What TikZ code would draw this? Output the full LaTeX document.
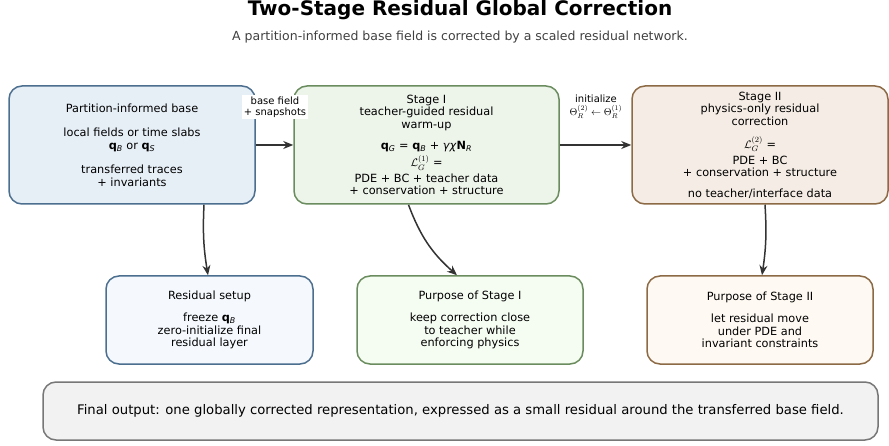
\documentclass[tikz,border=0pt]{standalone}
\usepackage{fontspec}
\setmainfont{DejaVu Sans}
\usetikzlibrary{arrows.meta}
\definecolor{aFill}{HTML}{E6EEF6}
\definecolor{aLine}{HTML}{4C6E8F}
\definecolor{dFill}{HTML}{F5F9FE}
\definecolor{bFill}{HTML}{EDF4EA}
\definecolor{bLine}{HTML}{6A8C5E}
\definecolor{eFill}{HTML}{F5FCF2}
\definecolor{cFill}{HTML}{F5EDE5}
\definecolor{cLine}{HTML}{8C6A45}
\definecolor{fFill}{HTML}{FEF9F2}
\definecolor{gFill}{HTML}{F2F2F2}
\definecolor{gLine}{HTML}{777777}
\definecolor{arr}{HTML}{333333}
\newcommand\qb[1]{\textbf{q}\textsubscript{\textit{#1}}}
\tikzset{
  box/.style={draw, line width=1.5pt, rounded corners=13pt, align=center,
    font=\fontsize{11.3}{12.5}\selectfont, inner sep=2pt},
  conn/.style={draw=arr, line width=1.5pt, -{Stealth[length=10pt,width=8pt]}},
  lbl/.style={align=center, font=\fontsize{10}{11}\selectfont, inner sep=1.5pt}
}
\begin{document}
\begin{tikzpicture}[x=1pt,y=-1pt]
\useasboundingbox (0,0) rectangle (889,446);
\node[font=\fontsize{20}{22}\selectfont\bfseries] (title) at (460,10) {Two-Stage Residual Global Correction};
\node[font=\fontsize{12.5}{14}\selectfont, text=black!75] (sub) at (460,37) {A partition-informed base field is corrected by a scaled residual network.};

\node[box, fill=aFill, draw=aLine, minimum width=246pt, minimum height=118pt] (A) at (132,145)
 {Partition-informed base\\[12pt]local fields or time slabs\\\qb{B} or \qb{S}\\[12pt]transferred traces\\+ invariants};
\node[box, fill=bFill, draw=bLine, minimum width=265pt, minimum height=118pt] (B) at (426.5,145)
 {Stage I\\teacher-guided residual\\warm-up\\[9pt]\qb{G} = \qb{B} + \textit{γχ}\textbf{N}\textsubscript{\textit{R}}\\[2pt]$\mathcal{L}_{G}^{(1)}$ =\\[3pt]PDE + BC + teacher data\\+ conservation + structure};
\node[box, fill=cFill, draw=cLine, minimum width=256pt, minimum height=118pt] (C) at (760,145)
 {Stage II\\physics-only residual\\correction\\[11pt]$\mathcal{L}_{G}^{(2)}$ =\\[3pt]PDE + BC\\+ conservation + structure\\[8pt]no teacher/interface data};

\node[box, fill=dFill, draw=aLine, minimum width=207pt, minimum height=88pt] (D) at (209.5,320)
 {Residual setup\\[10pt]freeze \qb{B}\\zero-initialize final\\residual layer};
\node[box, fill=eFill, draw=bLine, minimum width=226pt, minimum height=88pt] (E) at (470,320)
 {Purpose of Stage I\\[10pt]keep correction close\\to teacher while\\enforcing physics};
\node[box, fill=fFill, draw=cLine, minimum width=226pt, minimum height=88pt] (F) at (760,320)
 {Purpose of Stage II\\[10pt]let residual move\\under PDE and\\invariant constraints};

\node[box, fill=gFill, draw=gLine, minimum width=835pt, minimum height=58pt, font=\fontsize{13.2}{15}\selectfont] (G) at (460.5,411)
 {Final output: one globally corrected representation, expressed as a small residual around the transferred base field.};

\draw[conn] (A.east) -- (B.west);
\draw[conn] (B.east) -- (C.west);
\node[lbl, fill=white] (l1) at (275,107) {base field\\+ snapshots};
\node[lbl] (l2) at (596,107) {initialize\\[2pt]$\Theta_R^{(2)}\leftarrow\Theta_R^{(1)}$};

\draw[conn] ([xshift=72pt]A.south) to[bend right=6] ([xshift=-1.5pt]D.north);
\draw[conn] ([xshift=-18pt]B.south) to[bend right=14] ([xshift=-13pt]E.north);
\draw[conn] ([xshift=5pt]C.south) to[bend left=6] ([xshift=2pt]F.north);
\end{tikzpicture}
\end{document}
